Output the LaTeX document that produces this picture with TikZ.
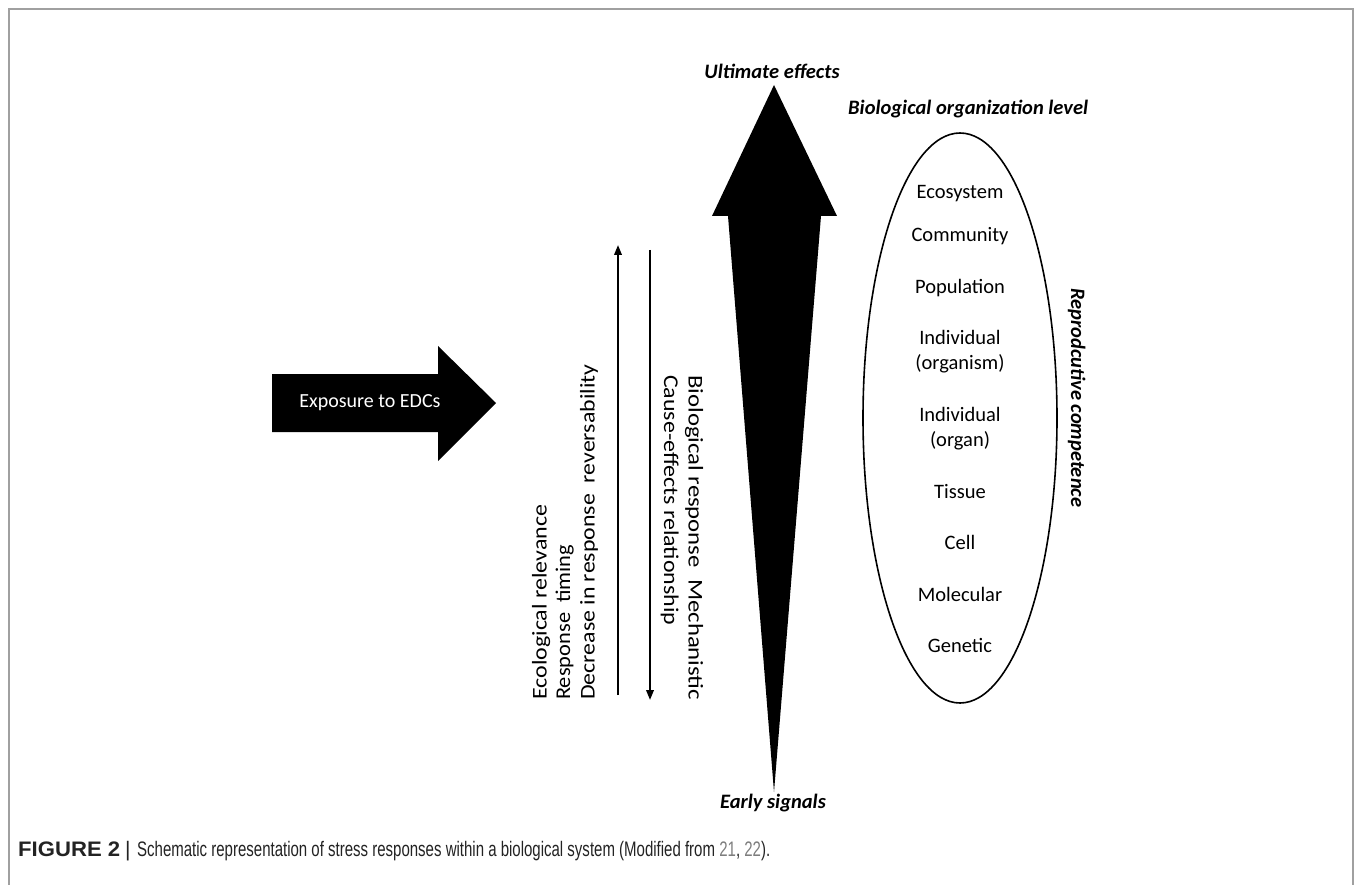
\documentclass[tikz,border=0pt]{standalone}
\usepackage{graphicx}
\usepackage{fontspec}
\setmainfont{Carlito}
\newfontfamily\capfont{Liberation Sans}
\usetikzlibrary{arrows.meta}
\definecolor{framegray}{RGB}{160,160,160}
\definecolor{captext}{RGB}{35,35,35}
\definecolor{linkgray}{RGB}{125,125,125}
\begin{document}
\begin{tikzpicture}[x=1pt,y=-1pt,
  lbl/.style={font=\fontsize{20.5}{25}\selectfont, inner sep=0pt, align=center, anchor=base},
  bilbl/.style={font=\fontsize{20.5}{25}\selectfont\bfseries\itshape, inner sep=0pt},
  rottxt/.style={font=\fontsize{21}{25}\selectfont, inner sep=0pt, anchor=base west},
  thinarrow/.style={line width=2pt, -{Triangle[length=10pt,width=7.5pt]}},
  capstyle/.style={font=\capfont\fontsize{21}{24}\selectfont, inner sep=0pt, anchor=base west, text=captext}
]
\useasboundingbox (0,0) rectangle (1355,885);
% frame
\draw[framegray, line width=1.6pt] (9,885) -- (9,9) -- (1353,9) -- (1353,885);

% exposure arrow
\fill[black] (272,374) -- (438,374) -- (438,346) -- (496,403) -- (438,461) -- (438,432) -- (272,432) -- cycle;
\node[font=\fontsize{20}{24}\selectfont, text=white, inner sep=0pt] (expo) at (370,403) {Exposure to EDCs};

% big vertical arrow
\coordinate (tipU) at (774,85);
\coordinate (tipD) at (774,792);
\fill[black] (tipU) -- (837,216) -- (821,216) -- (tipD) -- (728,216) -- (712,216) -- cycle;
\node[bilbl, anchor=base] (ult) at (772,79) {Ultimate effects};
\node[bilbl, anchor=base] (early) at (773,808) {Early signals};

% thin arrows
\coordinate (upB) at (618,695);
\coordinate (upT) at (618,245);
\coordinate (dnT) at (650,250);
\coordinate (dnB) at (650,700);
\draw[thinarrow] (upB) -- (upT);
\draw[thinarrow] (dnT) -- (dnB);

% left rotated texts (read upward)
\node[rottxt, rotate=90] (t1) at (546.5,700) {\resizebox{195pt}{\height}{Ecological relevance}};
\node[rottxt, rotate=90] (t2) at (570,700) {\resizebox{155pt}{\height}{Response\ \ timing}};
\node[rottxt, rotate=90] (t3) at (594.5,700) {\resizebox{335pt}{\height}{Decrease in response\ \ reversability}};
% right rotated texts (read downward)
\node[rottxt, rotate=-90] (t4) at (688.5,375) {\resizebox{325pt}{\height}{Biological response\ \ Mechanistic}};
\node[rottxt, rotate=-90] (t5) at (664,375) {\resizebox{250pt}{\height}{Cause-effects relationship}};

% ellipse
\node[bilbl, anchor=base west] (bol) at (848,115) {Biological organization level};
\draw[line width=1.6pt] (960,418) ellipse [x radius=97, y radius=285];
\node[lbl] (eco) at (960,198.5) {Ecosystem};
\node[lbl] (com) at (960,241.5) {Community};
\node[lbl] (pop) at (960,293.5) {Population};
\node[lbl] (ind1) at (960,369.5) {Individual\\(organism)};
\node[lbl] (ind2) at (960,446.5) {Individual\\(organ)};
\node[lbl] (tis) at (960,498.5) {Tissue};
\node[lbl] (cel) at (960,549.5) {Cell};
\node[lbl] (mol) at (960,601.5) {Molecular};
\node[lbl] (gen) at (960,652.5) {Genetic};
\node[bilbl, anchor=base west, rotate=-90] (rep) at (1071,288) {Reprodcutive competence};

% caption
\node[capstyle, font=\capfont\fontsize{21}{24}\selectfont\bfseries] (figlbl) at (18,856) {\resizebox{102pt}{\height}{FIGURE 2}};
\node[capstyle] (bar) at (125,856) {|};
\node[capstyle] (capt) at (137,856) {\resizebox{633pt}{\height}{Schematic representation of stress responses within a biological system (Modified from \textcolor{linkgray}{21}, \textcolor{linkgray}{22}).}};
\end{tikzpicture}
\end{document}
